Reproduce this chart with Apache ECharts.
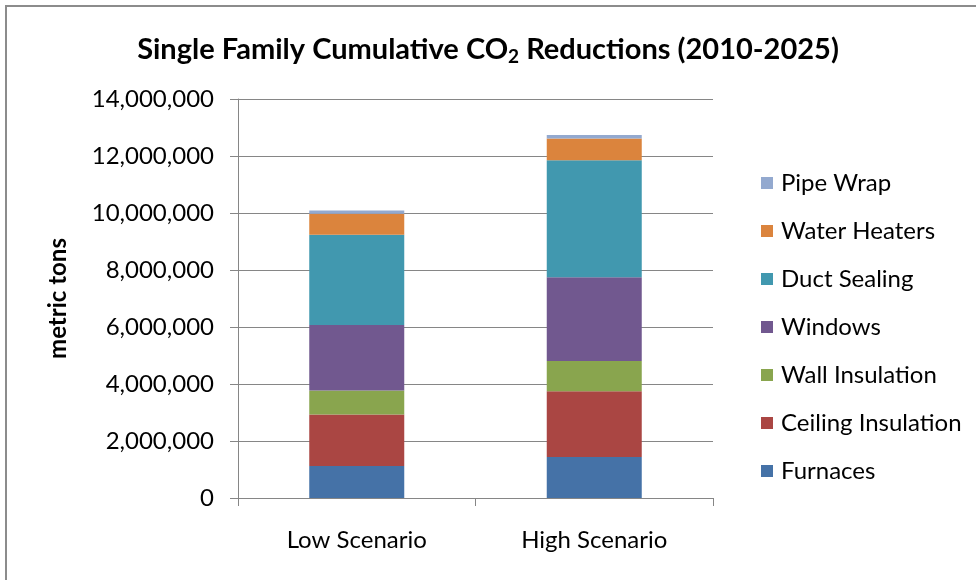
<!DOCTYPE html>
<html>
<head>
<meta charset="utf-8">
<script src="https://cdn.jsdelivr.net/npm/echarts@6/dist/echarts.min.js"></script>
<style>
html,body{margin:0;padding:0;background:#fff;}
#frame{position:absolute;left:5px;top:5px;width:980px;height:590px;border-left:2px solid #8c8c8c;border-top:2px solid #8c8c8c;box-sizing:border-box;}
#chart{position:absolute;left:0;top:0;width:976px;height:580px;}
</style>
</head>
<body>
<div id="frame"></div>
<div id="chart"></div>
<script>
const categories = ['Low Scenario', 'High Scenario'];
const seriesNames = ['Furnaces', 'Ceiling Insulation', 'Wall Insulation', 'Windows', 'Duct Sealing', 'Water Heaters', 'Pipe Wrap'];
const furnaces = [1120000, 1440000];
const ceilingInsulation = [1810000, 2310000];
const wallInsulation = [840000, 1060000];
const windows = [2300000, 2940000];
const ductSealing = [3170000, 4100000];
const waterHeaters = [735000, 760000];
const pipeWrap = [115000, 130000];
const yTicks = [0, 2000000, 4000000, 6000000, 8000000, 10000000, 12000000, 14000000];

const values = [furnaces, ceilingInsulation, wallInsulation, windows, ductSealing, waterHeaters, pipeWrap];
const colors = ['#4572A7', '#AA4643', '#89A54E', '#71588F', '#4198AF', '#DB843D', '#93A9CF'];
const FONT = 'Lato, "Open Sans", sans-serif';

const chart = echarts.init(document.getElementById('chart'), null, {renderer: 'canvas'});
chart.setOption({
  animation: false,
  backgroundColor: 'transparent',
  textStyle: {fontFamily: FONT},
  title: {
    text: 'Single Family Cumulative CO{sub|2} Reductions (2010-2025)',
    left: 'center',
    top: 28,
    textStyle: {
      fontFamily: FONT, fontSize: 29, fontWeight: 'bold', color: '#000',
      rich: {sub: {fontFamily: FONT, fontSize: 19, fontWeight: 'bold', color: '#000', verticalAlign: 'bottom', padding: [14, 0, 0, 0]}}
    }
  },
  legend: {
    orient: 'vertical',
    left: 756,
    top: 166,
    itemWidth: 12,
    itemHeight: 12,
    itemGap: 24,
    icon: 'rect',
    data: seriesNames.slice().reverse(),
    textStyle: {fontFamily: FONT, fontSize: 24, color: '#000', padding: [0, 0, 0, 3]}
  },
  grid: {left: 238, right: 263, top: 99, bottom: 82, containLabel: false},
  xAxis: {
    type: 'category',
    data: categories,
    axisLine: {lineStyle: {color: '#868686', width: 1}},
    axisTick: {show: true, length: 8, lineStyle: {color: '#868686'}},
    axisLabel: {fontFamily: FONT, fontSize: 24, color: '#000', margin: 30}
  },
  yAxis: {
    type: 'value',
    min: yTicks[0],
    max: yTicks[yTicks.length - 1],
    interval: yTicks[1] - yTicks[0],
    name: 'metric tons',
    nameLocation: 'middle',
    nameGap: 168,
    nameTextStyle: {fontFamily: FONT, fontSize: 24, fontWeight: 'bold', color: '#000'},
    axisLine: {show: true, lineStyle: {color: '#868686', width: 1}},
    axisTick: {show: true, length: 8, lineStyle: {color: '#868686'}},
    splitLine: {lineStyle: {color: '#868686', width: 1}},
    axisLabel: {
      fontFamily: FONT, fontSize: 24, color: '#000', margin: 24,
      formatter: v => v.toLocaleString('en-US')
    }
  },
  series: seriesNames.map((name, i) => ({
    name: name,
    type: 'bar',
    stack: 'total',
    barWidth: '40%',
    itemStyle: {color: colors[i]},
    data: values[i]
  }))
});
</script>
</body>
</html>
